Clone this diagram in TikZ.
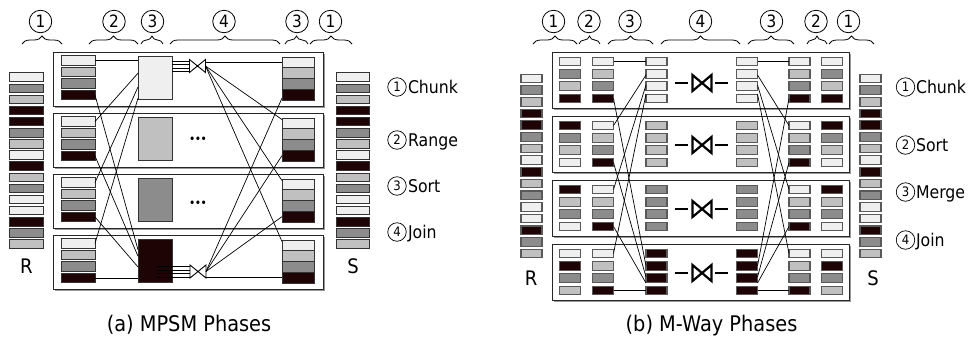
\documentclass[tikz,border=0pt]{standalone}
\usepackage{fontspec}
\setmainfont{DejaVu Sans}[FakeStretch=0.9]
\usetikzlibrary{decorations.pathreplacing,calc}
\definecolor{cL}{HTML}{EFEFEF}
\definecolor{cLG}{HTML}{C0C0C0}
\definecolor{cG}{HTML}{8C8C8C}
\definecolor{cD}{HTML}{1E0404}
\begin{document}
\begin{tikzpicture}[x=1pt,y=-1pt,
  every node/.style={inner sep=0pt,outer sep=0pt},
  wbox/.style={draw=black!85,line width=0.9pt,rectangle,anchor=north west,fill=white,
    preaction={fill=black!40,transform canvas={xshift=1.6pt,yshift=-1.6pt}}},
  abar/.style={draw=black!80,line width=0.7pt,rectangle},
  bbar/.style={draw=black!65,line width=1.1pt,rectangle,minimum width=21,minimum height=8.5},
  conn/.style={draw=black,line width=0.7pt},
  brc/.style={decorate,decoration={brace,amplitude=8pt},line width=0.8pt},
  tcirc/.style={circle,draw,line width=0.8pt,minimum size=22.5,font=\fontsize{17}{17}\selectfont},
  lcirc/.style={circle,draw,line width=0.7pt,minimum size=18.5,font=\fontsize{13}{13}\selectfont},
  legend/.style={anchor=base west,font=\fontsize{17.5}{17.5}\selectfont},
  captxt/.style={anchor=base,font=\fontsize{21.5}{21.5}\selectfont},
  rslab/.style={anchor=base,font=\fontsize{20}{20}\selectfont},
  dots/.style={font=\fontsize{10}{10}\selectfont\bfseries},
  bowa/.style={line width=0.9pt},
  bowb/.style={line width=2.2pt},
  dashb/.style={line width=1.1pt},
]
\useasboundingbox (0,0) rectangle (975,341);

% ================= Panel (a) =================
\foreach \c [count=\i] in {cL,cG,cLG,cD,cD,cG,cLG,cL,cD,cLG,cG,cL,cL,cD,cG,cLG}{
  \node[abar,fill=\c,minimum width=34,minimum height=8.5] (aRc\i) at (26,{77+(\i-1)*11.13}) {};
  \node[abar,fill=\c,minimum width=33,minimum height=8.5] (aSc\i) at (352.5,{77+(\i-1)*11.13}) {};
}
\node[rslab] (aRlab) at (26.5,273) {R};
\node[rslab] (aSlab) at (353,273) {S};

\foreach \k/\sc in {1/cL,2/cLG,3/cG,4/cD}{
  \pgfmathsetmacro\t{52+(\k-1)*61}
  \node[wbox,minimum width=270,minimum height=54] (aW\k) at (53,\t) {};
  \foreach \c [count=\i] in {cL,cLG,cG,cD}{
    \node[abar,fill=\c,minimum width=34,minimum height=9.5] (aL\k-\i) at (78,{\t+8.5+(\i-1)*11.5}) {};
    \node[abar,fill=\c,minimum width=32,minimum height=10.75] (aR\k-\i) at (298,{\t+10.4+(\i-1)*10.75}) {};
  }
  \node[abar,fill=\sc,minimum width=34,minimum height=43,anchor=north west] (aS\k) at (138,{\t+4}) {};
}
\node[dots] (adot2) at (198,140) {•••};
\node[dots] (adot3) at (198,204) {•••};

% bowties (a)
\coordinate (abt1) at (197.5,66);
\coordinate (abt4) at (198,271.5);
\foreach \b in {abt1,abt4}{
  \draw[bowa] ($(\b)+(-8,-6.5)$) -- ($(\b)+(8,6.5)$) -- ($(\b)+(8,-6.5)$) -- ($(\b)+(-8,6.5)$) -- cycle;
}
\coordinate (abt1w) at ($(abt1)+(-8,0)$);
\coordinate (abt1e) at ($(abt1)+(8,0)$);
\coordinate (abt4w) at ($(abt4)+(-8,0)$);
\coordinate (abt4e) at ($(abt4)+(8,0)$);
\coordinate (aS4in) at ($(aS4.center)+(2,0)$);
\foreach \dy in {-5,-1.5,2,5.5}{
  \pgfmathsetmacro\yy{66+\dy}
  \draw[conn] (aS1.east |- 0,\yy) -- (abt1w |- 0,\yy);
  \pgfmathsetmacro\yz{271.5+\dy}
  \draw[conn] (aS4in |- 0,\yz) -- (abt4w |- 0,\yz);
}

% left connectors (a)
\draw[conn] (aL1-1.east) -- (aL1-1.east -| aS1.west);
\draw[conn] (aL2-1.east) -- ($(aS1.north west)!0.4!(aS1.south west)$);
\draw[conn] (aL3-1.east) -- ($(aS1.north west)!0.72!(aS1.south west)$);
\draw[conn] (aL4-1.east) -- ($(aS1.north west)!0.98!(aS1.south west)$);
\draw[conn] (aL1-4.east) -- ($(aS4.north west)!0.25!(aS4.south west)$);
\draw[conn] (aL2-4.east) -- ($(aS4.north west)!0.4!(aS4.south west)$);
\draw[conn] (aL3-4.east) -- ($(aS4.north west)!0.65!(aS4.south west)$);
\draw[conn] (aL4-4.east) -- (aL4-4.east -| aS4.west);

% right connectors (a)
\draw[conn] (abt1e |- aR1-1.west) -- (aR1-1.west);
\draw[conn] (abt1e) -- ([yshift=-1.5pt]aR2-1.north west);
\draw[conn] (abt1e) -- ([yshift=-1.5pt]aR3-1.north west);
\draw[conn] (abt1e) -- ([yshift=-1.5pt]aR4-1.north west);
\draw[conn] (abt4e) -- ([yshift=2pt]aR1-4.south west);
\draw[conn] (abt4e) -- (aR2-4.west);
\draw[conn] (abt4e) -- (aR3-4.west);
\draw[conn] (abt4e |- aR4-4.west) -- (aR4-4.west);

% top labels (a)
\foreach \x/\n/\l/\r [count=\j] in {40.5/1/22/62, 114/2/89/138, 152.5/3/141/163, 224/4/170/280, 297/3/285/308, 330.5/1/310/352}{
  \node[tcirc] (atop\j) at (\x,21.5) {\n};
  \draw[brc] (\l,44) -- (\r,44);
}
\foreach \n/\w/\y in {1/Chunk/87, 2/Range/140, 3/Sort/186, 4/Join/232}{
  \node[lcirc] (alc\n) at (397,\y) {\n};
  \node[legend] (aleg\n) at (408,{\y+6.8}) {\w};
}
\node[captxt] (acap) at (189,331) {(a) MPSM Phases};

% ================= Panel (b) =================
\foreach \c [count=\i] in {cL,cG,cLG,cD,cD,cG,cLG,cL,cD,cLG,cG,cL,cL,cD,cG,cLG}{
  \node[bbar,fill=\c] (bRc\i) at (531.5,{78.5+(\i-1)*11.67}) {};
  \node[bbar,fill=\c] (bSc\i) at (870.5,{78.5+(\i-1)*11.67}) {};
}
\node[rslab] (bRlab) at (531,285) {R};
\node[rslab] (bSlab) at (873,285) {S};

\foreach \k/\sc/\ca/\cb/\cc/\cd/\by in {1/cL/cL/cG/cLG/cD/83, 2/cLG/cD/cG/cLG/cL/145, 3/cG/cD/cLG/cG/cL/209, 4/cD/cL/cD/cG/cLG/273}{
  \pgfmathsetmacro\t{52.5+(\k-1)*64}
  \node[wbox,minimum width=297,minimum height=56] (bW\k) at (552,\t) {};
  \foreach \c [count=\i] in {\ca,\cb,\cc,\cd}{
    \node[bbar,fill=\c] (b1-\k-\i) at (570,{\t+9+(\i-1)*12.33}) {};
    \node[bbar,fill=\c] (b6-\k-\i) at (832,{\t+9+(\i-1)*12.33}) {};
  }
  \foreach \c [count=\i] in {cL,cLG,cG,cD}{
    \node[bbar,fill=\c] (b2-\k-\i) at (603,{\t+9+(\i-1)*12.33}) {};
    \node[bbar,fill=\c] (b5-\k-\i) at (799.5,{\t+9+(\i-1)*12.33}) {};
  }
  \foreach \i in {1,...,4}{
    \node[bbar,fill=\sc] (b3-\k-\i) at (656.5,{\t+9+(\i-1)*12.33}) {};
    \node[bbar,fill=\sc] (b4-\k-\i) at (747,{\t+9+(\i-1)*12.33}) {};
  }
  \coordinate (bbt\k) at (702,\by);
  \draw[bowb] ($(bbt\k)+(-9.5,-8)$) -- ($(bbt\k)+(9.5,8)$) -- ($(bbt\k)+(9.5,-8)$) -- ($(bbt\k)+(-9.5,8)$) -- cycle;
  \draw[dashb] ($(bbt\k)+(-27,0)$) -- ($(bbt\k)+(-14,0)$);
  \draw[dashb] ($(bbt\k)+(13,0)$) -- ($(bbt\k)+(26,0)$);
}

% left connectors (b)
\draw[conn] (b2-1-1.east) -- (b2-1-1.east -| b3-1-1.west);
\draw[conn] (b2-2-1.east) -- (b3-1-1.west |- 0,75);
\draw[conn] (b2-3-1.east) -- (b3-1-1.west |- 0,85);
\draw[conn] (b2-4-1.east) -- (b3-1-1.west |- 0,94);
\draw[conn] (b2-1-4.east) -- (b3-4-1.west |- 0,266);
\draw[conn] (b2-2-4.east) -- (b3-4-1.west |- 0,277);
\draw[conn] (b2-3-4.east) -- (b3-4-1.west |- 0,283);
\draw[conn] (b2-4-4.east) -- (b2-4-4.east -| b3-4-1.west);
% right connectors (b)
\draw[conn] (b4-1-1.east) -- (b4-1-1.east -| b5-1-1.west);
\draw[conn] (b4-1-1.east |- 0,75) -- (b5-2-1.west);
\draw[conn] (b4-1-1.east |- 0,85) -- (b5-3-1.west);
\draw[conn] (b4-1-1.east |- 0,94) -- (b5-4-1.west);
\draw[conn] (b4-4-1.east |- 0,266) -- (b5-1-4.west);
\draw[conn] (b4-4-1.east |- 0,277) -- (b5-2-4.west);
\draw[conn] (b4-4-1.east |- 0,283) -- (b5-3-4.west);
\draw[conn] (b4-4-4.east) -- (b4-4-4.east -| b5-4-4.west);

% top labels (b)
\foreach \x/\n/\l/\r [count=\j] in {553.5/1/533/577, 589/2/579/600, 630/3/608/653, 700.5/4/661/740, 771.5/3/748/794, 816/2/807/827, 848.5/1/829/874}{
  \node[tcirc] (btop\j) at (\x,21.5) {\n};
  \draw[brc] (\l,44) -- (\r,44);
}
\foreach \n/\w/\y in {1/Chunk/87, 2/Sort/145, 3/Merge/192, 4/Join/240}{
  \node[lcirc] (blc\n) at (905.5,\y) {\n};
  \node[legend] (bleg\n) at (916,{\y+6.8}) {\w};
}
\node[captxt] (bcap) at (711.5,331) {(b) M-Way Phases};
\end{tikzpicture}
\end{document}
